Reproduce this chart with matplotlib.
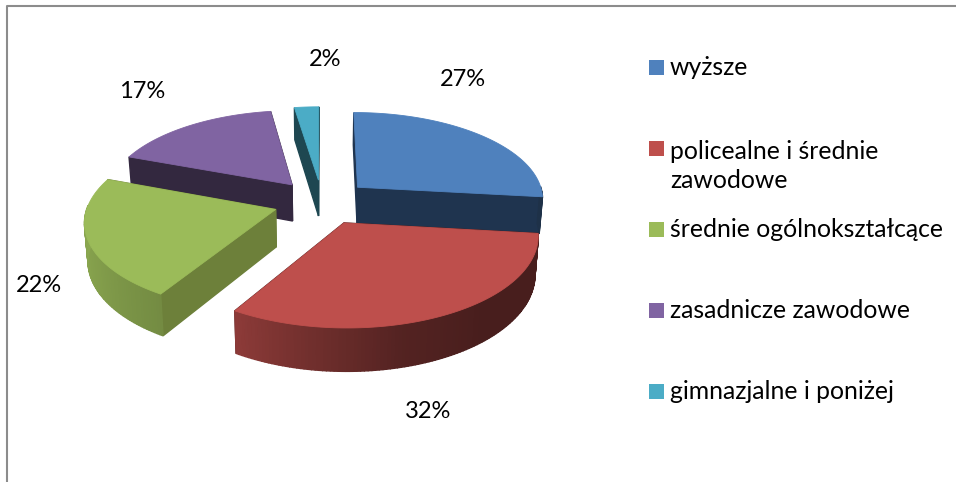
import matplotlib
matplotlib.use('Agg')
import matplotlib.pyplot as plt
import numpy as np

# udzialy wyksztalcenia (%)
kategorie = ['wyższe', 'policealne i średnie\nzawodowe', 'średnie ogólnokształcące',
             'zasadnicze zawodowe', 'gimnazjalne i poniżej']
udzialy = [26.8, 31.9, 22.0, 16.9, 2.4]

kolory = ['#4F81BD', '#BE4F4C', '#9BBB59', '#8064A2', '#4BACC6']
kolory_cien = ['#1F344F', '#4C1F1E', '#6D803A', '#33283F', '#1E4751']
poz_procent = [(463, 80), (428, 411), (39, 285), (142, 92), (325, 60)]
poz_legenda = [75, 156, 237, 318, 399]

# geometria pseudo 3D (piksele)
CX, CY = 322, 202
R, S = 187, 87
K = 0.12
ROZSUW = 0.26
WYS = 37

plt.rcParams['font.family'] = ['Lato', 'DejaVu Sans']


# plaszczyzna kola -> ekran, z perspektywa
def rzut(x, y, dol=0.0):
    w = 1 + K * y
    skala = 1 - 0.015 * (dol > 0)
    return CX + skala * R * x / w, CY - S * y / w + dol / w


def wielokat(ax, g1, g2, d2, d1, kolor):
    ax.fill([g1[0], g2[0], d2[0], d1[0]], [g1[1], g2[1], d2[1], d1[1]],
            color=kolor, lw=1.0, zorder=2)


def cien(kat):
    return np.interp(kat, [97, 140, 165, 190, 212, 240, 270, 291],
                     [0.38, 0.38, 0.44, 0.6, 0.75, 0.84, 0.9, 0.9])


fig = plt.figure(figsize=(9.56, 4.82), dpi=100)
ax = fig.add_axes([0, 0, 1, 1])
ax.set_xlim(0, 956)
ax.set_ylim(482, 0)
ax.axis('off')

# ramka wykresu
ax.plot([7.5, 7.5, 956], [482, 5.5, 5.5], color='#8C8C8C', lw=1.5, solid_capstyle='butt')

granice = np.concatenate([[0], np.cumsum(udzialy)]) * 360 / sum(udzialy)
wycinki = []
for i in range(len(udzialy)):
    a, b = granice[i], granice[i + 1]
    srodek = np.radians((a + b) / 2)
    wycinki.append((i, a, b, ROZSUW * np.sin(srodek), ROZSUW * np.cos(srodek)))

# od tylu do przodu
for i, a, b, ex, ey in [wycinki[n] for n in (4, 3, 0, 2, 1)]:
    katy = np.linspace(a, b, int(b - a) + 2)
    t = np.radians(katy)
    px = ex + np.sin(t)
    py = ey + np.cos(t)
    # sciany przekroju
    for kat in (a, b):
        tt = np.radians(kat)
        x2, y2 = ex + np.sin(tt), ey + np.cos(tt)
        wielokat(ax, rzut(ex, ey), rzut(x2, y2), rzut(x2, y2, WYS), rzut(ex, ey, WYS), kolory_cien[i])
    # sciana zewnetrzna, tylko od frontu, paski o roznym odcieniu
    baza = np.array(matplotlib.colors.to_rgb(kolory[i]))
    for n in range(len(katy) - 1):
        if katy[n + 1] < 90 or katy[n] > 272:
            continue
        wielokat(ax, rzut(px[n], py[n]), rzut(px[n + 1], py[n + 1]),
                 rzut(px[n + 1], py[n + 1], WYS), rzut(px[n], py[n], WYS),
                 tuple(baza * cien(katy[n])))
    # gorna powierzchnia
    sx, sy = rzut(np.append(px, ex), np.append(py, ey))
    ax.fill(sx, sy, color=kolory[i], lw=0.6, zorder=2)

for i, v in enumerate(udzialy):
    ax.text(poz_procent[i][0], poz_procent[i][1], str(round(v)) + '%', fontsize=17,
            ha='center', va='center', color='#000000')

# legenda
for i, nazwa in enumerate(kategorie):
    y = poz_legenda[i]
    ax.fill([649, 664, 664, 649], [y - 15, y - 15, y, y], color=kolory[i], lw=0)
    ax.text(670, y + 32 * nazwa.count('\n'), nazwa, fontsize=17.8, ha='left', va='baseline',
            linespacing=1.31, color='#000000')

fig.savefig('out.png', dpi=100)
